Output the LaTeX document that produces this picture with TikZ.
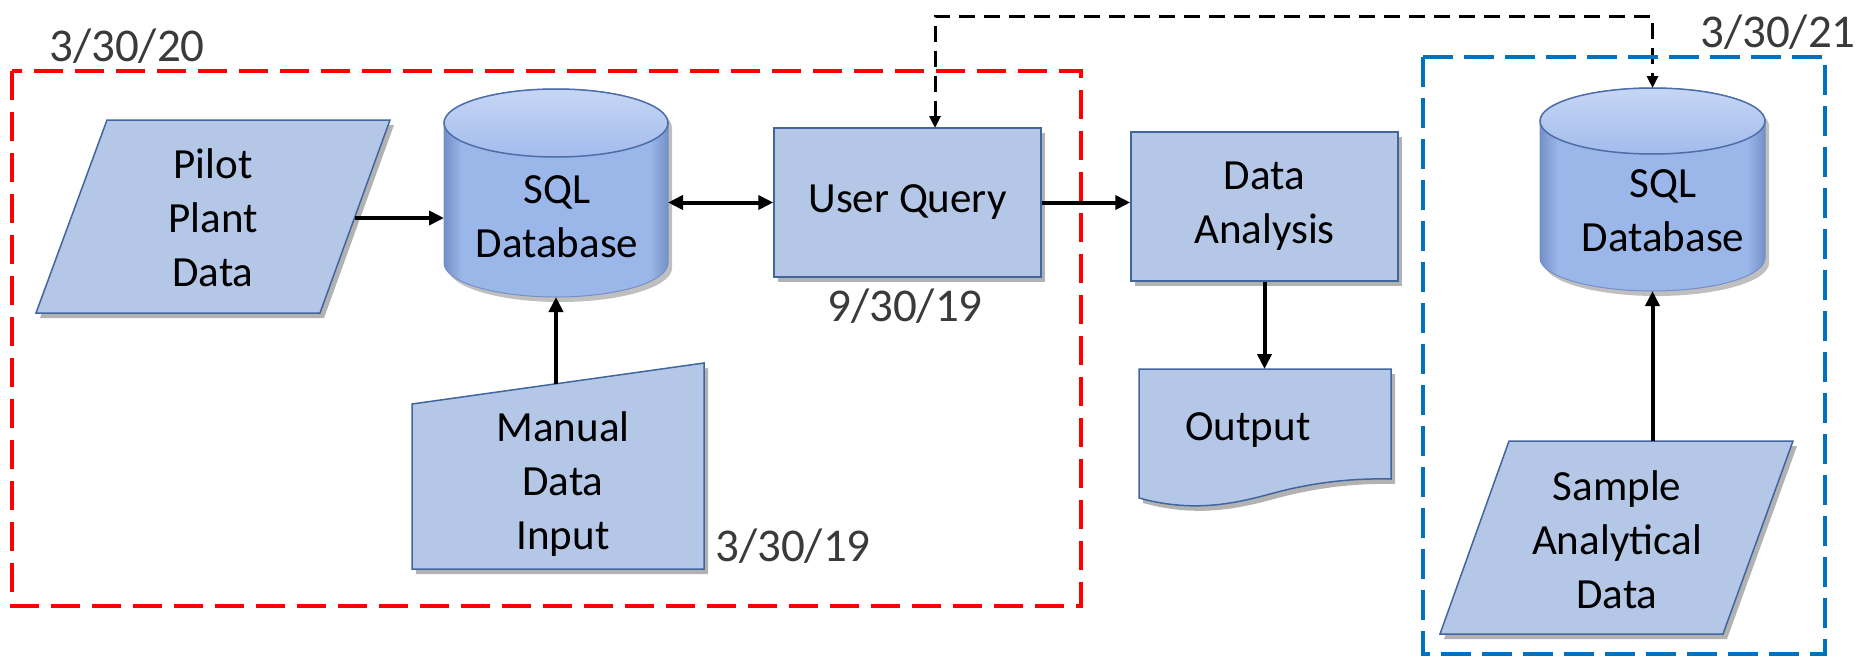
\documentclass[tikz,border=0pt]{standalone}
\usepackage{fontspec}
\setmainfont{Carlito}
\usetikzlibrary{arrows.meta,shadows,calc}
\definecolor{boxfill}{HTML}{B4C7E7}
\definecolor{boxline}{HTML}{41669F}
\definecolor{cylmain}{HTML}{9BB6E8}
\definecolor{cyldark}{HTML}{7490C8}
\definecolor{cyltop}{HTML}{A3BCEC}
\definecolor{cyllight}{HTML}{C6D6F5}
\definecolor{cylrim}{HTML}{4D6EA8}
\definecolor{redbox}{HTML}{FF0000}
\definecolor{bluebox}{HTML}{0070C0}
\definecolor{labelgray}{HTML}{3A3A3A}
\pgfdeclarehorizontalshading{cylside}{100bp}{color(0bp)=(cyldark); color(25bp)=(cyldark); color(29bp)=(cylmain); color(71bp)=(cylmain); color(75bp)=(cyldark); color(100bp)=(cyldark)}
\tikzset{
  fcshape/.style={fill=boxfill, draw=boxline, line width=1.5pt,
    drop shadow={shadow xshift=4pt, shadow yshift=-5pt, opacity=0.3, fill=black}},
  txt/.style={font=\fontsize{43}{54}\selectfont, align=center, inner sep=0pt, text=black},
  datelbl/.style={font=\fontsize{47}{56}\selectfont, text=labelgray, inner sep=0pt, anchor=base},
  ghost/.style={inner sep=0pt, outer sep=0pt, draw=none},
  arr/.style={line width=4pt, -{Triangle[length=15pt,width=14pt]}},
  biarr/.style={line width=4pt, {Triangle[length=15pt,width=14pt]}-{Triangle[length=15pt,width=14pt]}},
  dasharr/.style={line width=3pt, dash pattern=on 16pt off 9pt,
    {Triangle[length=12pt,width=11pt]}-{Triangle[length=12pt,width=11pt]}},
  redframe/.style={draw=redbox, line width=4pt, dash pattern=on 29pt off 12pt},
  blueframe/.style={draw=bluebox, line width=3.5pt, dash pattern=on 30pt off 11pt},
  cylbody/.style={shade, shading=cylside, draw=cyldark, line width=1pt,
    drop shadow={shadow xshift=4pt, shadow yshift=-5pt, opacity=0.25, fill=black}},
  cylcap/.style={top color=cyllight, bottom color=cyltop, draw=cylrim, line width=1.5pt}
}
\begin{document}
\begin{tikzpicture}[x=1pt,y=-1pt]
\useasboundingbox (0,0) rectangle (1858,656);

% Pilot plant data
\path[fcshape] (107,120) -- (390,120) -- (320,313) -- (36,313) -- cycle;
\node[txt] (pilot) at (213,218) {Pilot\\Plant\\Data};
\coordinate (pilotR) at (355,218);

% SQL database 1
\path[cylbody] (444,123) -- (444,263) arc[start angle=180,end angle=0,x radius=112,y radius=34]
  -- (668,123) arc[start angle=0,end angle=-180,x radius=112,y radius=34] -- cycle;
\path[cylcap] (556,123) ellipse[x radius=112,y radius=34];
\node[ghost, minimum width=224pt, minimum height=208pt] (db1) at (556,193) {};
\node[txt] (db1txt) at (557,217) {SQL\\Database};

% Manual data input
\path[fcshape] (412,404) -- (704,363) -- (704,569) -- (412,569) -- cycle;
\node[txt] (manual) at (563,484) {Manual\\Data\\Input};
\coordinate (mtop) at (556,384);

% User query
\node[fcshape, txt, minimum width=267pt, minimum height=149pt] (uq) at (907.5,202.5) {User Query};

% Data analysis
\node[fcshape, txt, minimum width=267pt, minimum height=149pt] (da) at (1264.5,206.5) {Data\\Analysis};

% Output document
\path[fcshape] (1139,369) -- (1391,369) -- (1391,479)
  .. controls (1350,478) and (1310,483) .. (1270,494)
  .. controls (1230,505) and (1190,512) .. (1139,498) -- cycle;
\node[ghost, minimum width=252pt, minimum height=110pt] (out) at (1265,424) {};
\node[txt] (outtxt) at (1248,430) {Output};

% SQL database 2
\path[cylbody] (1540,121) -- (1540,258) arc[start angle=180,end angle=0,x radius=112.5,y radius=33]
  -- (1765,121) arc[start angle=0,end angle=-180,x radius=112.5,y radius=33] -- cycle;
\path[cylcap] (1652.5,121) ellipse[x radius=112.5,y radius=33];
\node[ghost, minimum width=225pt, minimum height=203pt] (db2) at (1652.5,189.5) {};
\node[txt] (db2txt) at (1663,211) {SQL\\Database};

% Sample analytical data
\path[fcshape] (1509,441) -- (1793,441) -- (1723,634) -- (1440,634) -- cycle;
\node[txt] (sample) at (1617,540) {Sample\\Analytical\\Data};
\coordinate (stop) at (1652.5,441);

% connectors
\draw[arr] (pilotR) -- (pilotR -| db1.west);
\draw[biarr] (uq.west -| db1.east) -- (uq.west);
\draw[arr] (mtop) -- (db1.south);
\draw[arr] (uq.east) -- (uq.east -| da.west);
\draw[arr] (da.south) -- (da.south |- out.north);
\draw[arr] (stop) -- (db2.south);
\coordinate (qin) at (935,128);
\coordinate (dtop) at (935,16);
\draw[dasharr] (qin) -- (dtop) -| (db2.north);

% frames
\draw[redframe] (12,71) rectangle (1081,606);
\draw[blueframe] (1423,57) rectangle (1825,654);

% date labels
\node[datelbl] (d1) at (127,61) {3/30/20};
\node[datelbl] (d2) at (905,321) {9/30/19};
\node[datelbl] (d3) at (793,561) {3/30/19};
\node[datelbl] (d4) at (1778,47) {3/30/21};
\end{tikzpicture}
\end{document}
